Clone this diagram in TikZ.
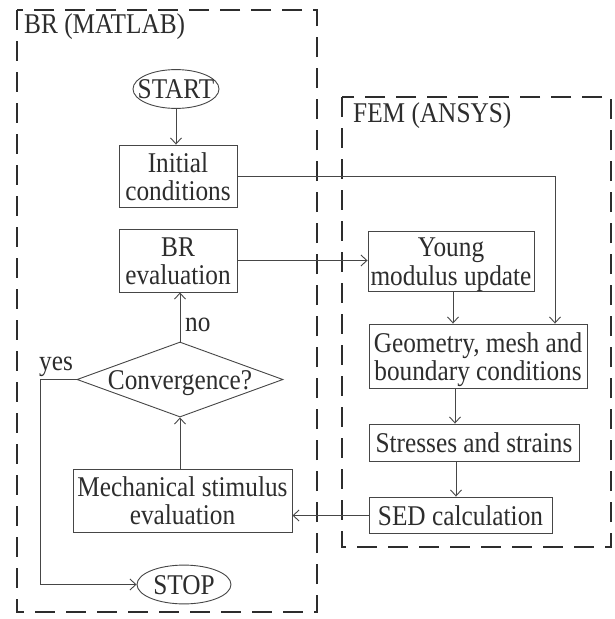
\documentclass[tikz,border=0pt]{standalone}
\usepackage{fontspec}
\usepackage{graphicx}
\setmainfont{Liberation Serif}
\usetikzlibrary{shapes.geometric,arrows.meta}
\definecolor{ink}{RGB}{45,45,45}
\definecolor{lin}{RGB}{70,70,70}
\newcommand{\tl}[1]{\scalebox{1}[1.13]{#1}}
\newcommand{\tx}[1]{\raisebox{-4.5pt}[\height][\depth]{\scalebox{1}[1.13]{\begin{tabular}{@{}c@{}}#1\end{tabular}}}}
\tikzset{
  boxnode/.style={draw=lin,line width=0.9pt,inner sep=0pt,align=center,text=ink,font=\fontsize{25.3}{24.3}\selectfont},
  ellnode/.style={ellipse,draw=lin,line width=0.9pt,inner sep=0pt,text=ink,font=\fontsize{25.3}{24.3}\selectfont},
  dianode/.style={diamond,draw=lin,line width=0.9pt,inner sep=0pt,text=ink,font=\fontsize{25.3}{24.3}\selectfont},
  lab/.style={inner sep=0pt,text=ink,font=\fontsize{25.3}{24.3}\selectfont},
  conn/.style={draw=lin,line width=0.9pt},
  arr/.style={conn,-{Straight Barb[length=6pt,width=11pt,line width=0.9pt]}},
  group/.style={draw=ink,line width=2pt,dash pattern=on 20pt off 11pt}
}
\begin{document}
\begin{tikzpicture}[x=1pt,y=-1pt]
\useasboundingbox (0,0) rectangle (615,619);
\fill[white] (0,0) rectangle (615,619);
% group frames
\draw[group] (17,10) rectangle (317,612);
\draw[group] (342,97) rectangle (611,547);
\node[lab,anchor=base west] (brl) at (24,33) {\tl{BR (MATLAB)}};
\node[lab,anchor=base west] (feml) at (353,122) {\tl{FEM (ANSYS)}};
% nodes
\node[ellnode,minimum width=86pt,minimum height=38pt] (start) at (176,89) {\makebox[0pt]{\tx{START}}};
\node[boxnode,minimum width=118pt,minimum height=62pt] (init) at (178,176) {\tx{Initial\\conditions}};
\node[boxnode,minimum width=118pt,minimum height=63pt] (breval) at (178,260.5) {\tx{BR\\evaluation}};
\node[dianode,minimum width=206pt,minimum height=75pt] (conv) at (180,379.5) {\makebox[0pt]{\tx{Convergence?}}};
\node[boxnode,minimum width=219pt,minimum height=63pt] (mech) at (182.5,500.5) {\tx{Mechanical stimulus\\evaluation}};
\node[ellnode,minimum width=94pt,minimum height=35pt] (stop) at (184,584.5) {\makebox[0pt]{\tx{STOP}}};
\node[boxnode,minimum width=166pt,minimum height=60pt] (young) at (451,261) {\tx{Young\\modulus update}};
\node[boxnode,minimum width=218pt,minimum height=64pt] (geom) at (478,356) {\tx{Geometry, mesh and\\boundary conditions}};
\node[boxnode,minimum width=210pt,minimum height=37pt] (stress) at (474,442.5) {\tx{Stresses and strains}};
\node[boxnode,minimum width=183pt,minimum height=36pt] (sed) at (460.5,515) {\tx{SED calculation}};
% helper coordinates
\coordinate (c1) at (555,176);
\coordinate (gx) at (455,0);
\coordinate (sx) at (456,0);
\coordinate (cx) at (180,0);
\coordinate (yx) at (40,379.5);
\coordinate (yb) at (40,584.5);
% connectors
\draw[arr] (start) -- (start.south |- init.north);
\draw[arr] (init.east) -- (c1) -- (c1 |- geom.north);
\draw[arr] (breval.east) -- (breval.east -| young.west);
\draw[arr] (young.south -| 453,0) -- (geom.north -| 453,0);
\draw[arr] (geom.south -| gx) -- (stress.north -| gx);
\draw[arr] (stress.south -| sx) -- (sed.north -| sx);
\draw[arr] (sed.west |- 0,515.5) -- (mech.east |- 0,515.5);
\draw[arr] (mech.north -| cx) -- (conv.south);
\draw[arr] (conv.north) -- (conv.north |- breval.south);
\draw[arr] (conv.west) -- (yx) -- (yb) -- (stop.west);
\node[lab,anchor=base west] (no) at (185,331) {\tl{no}};
\node[lab,anchor=base west] (yes) at (39,370) {\tl{yes}};
\end{tikzpicture}
\end{document}
